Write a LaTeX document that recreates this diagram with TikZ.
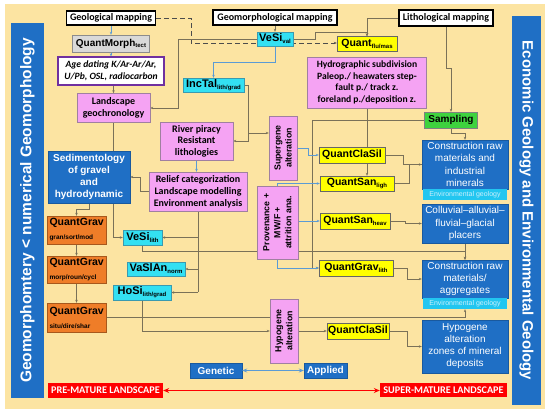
\documentclass[tikz,border=0pt]{standalone}
\usepackage{fontspec}
\setmainfont{Liberation Sans}
\newfontfamily\calfont{Carlito}
\usetikzlibrary{arrows.meta}
\pgfdeclarelayer{back}
\pgfdeclarelayer{bg}
\pgfsetlayers{back,bg,main}
\definecolor{beige}{HTML}{FCE4A2}
\definecolor{bblue}{HTML}{1F6FC5}
\definecolor{cyanf}{HTML}{33E0F2}
\definecolor{cyanb}{HTML}{3A9AB0}
\definecolor{envc}{HTML}{22C6F0}
\definecolor{yelf}{HTML}{FFFF00}
\definecolor{pinkf}{HTML}{F5A3F3}
\definecolor{pinkb}{HTML}{A080A0}
\definecolor{orf}{HTML}{EF7D28}
\definecolor{grnf}{HTML}{3ED23E}
\definecolor{grayf}{HTML}{D9D9D9}
\definecolor{purp}{HTML}{7030A0}
\definecolor{lineC}{HTML}{7A7158}
\definecolor{lineB}{HTML}{5B9BD5}
\definecolor{redf}{HTML}{FF0000}
\newcommand{\sbs}[1]{\raisebox{-0.35ex}{\fontsize{6}{6}\selectfont #1}}
\tikzset{
  base/.style={inner sep=0pt, align=center},
  mapbox/.style={base, draw=black, line width=1.3pt, fill=white, font=\calfont\bfseries\fontsize{10}{11}\selectfont},
  ybox/.style={base, fill=yelf, draw=black!60, line width=0.4pt, font=\bfseries\fontsize{10.5}{12}\selectfont},
  cbox/.style={base, fill=cyanf, draw=cyanb, line width=0.4pt, font=\bfseries\fontsize{11}{12}\selectfont},
  pbox/.style={base, fill=pinkf, draw=pinkb, line width=0.4pt, font=\calfont\bfseries\fontsize{10}{12}\selectfont},
  vtext/.style={base, rotate=90, font=\bfseries\fontsize{8.8}{11}\selectfont},
  obox/.style={base, fill=orf, draw=orf!70!black, line width=0.4pt, text width=54pt, align=left, font=\bfseries\fontsize{10.5}{11}\selectfont},
  bbox/.style={base, fill=bblue, draw=bblue!80!black, line width=0.4pt, text=white, font=\fontsize{10}{12.3}\selectfont},
  envbox/.style={base, fill=envc, text=white!80!cyan, font=\fontsize{7}{8}\selectfont},
  redbox/.style={base, fill=redf, text=white, font=\calfont\bfseries\fontsize{10.2}{11}\selectfont},
  conn/.style={draw=lineC, line width=0.55pt},
  bconn/.style={draw=lineB, line width=0.55pt},
  dashconn/.style={draw=black!70, line width=0.9pt, dash pattern=on 5pt off 3pt},
  arr/.style={-{Stealth[length=3pt,width=2.4pt]}},
}
\begin{document}
\begin{tikzpicture}[x=1pt,y=-1pt]
\useasboundingbox (0,0) rectangle (550,414);
\begin{pgfonlayer}{back}
\fill[white] (0,0) rectangle (550,414);
\fill[beige] (5,4) rectangle (545,409);
\end{pgfonlayer}
% side bars
\node[base, fill=bblue, minimum width=33, minimum height=375] (lbar) at (27.5,210.5) {};
\node[base, rotate=90, text=white, font=\bfseries\fontsize{15.5}{17}\selectfont] at (lbar) {Geomorphomtery < numerical Geomorphology};
\node[base, fill=bblue, minimum width=29, minimum height=389] (rbar) at (526.5,210.5) {};
\node[base, rotate=-90, text=white, font=\bfseries\fontsize{15}{17}\selectfont] at (rbar) {Economic Geology and Environmental Geology};
% top mapping boxes
\node[mapbox, minimum width=89, minimum height=14] (geo) at (111,18) {Geological mapping};
\node[mapbox, minimum width=124, minimum height=15] (geomorph) at (275,17.5) {Geomorphological mapping};
\node[mapbox, minimum width=94, minimum height=16] (litho) at (446,18) {Lithological mapping};
% left column
\node[base, fill=grayf, draw=black!45, line width=0.4pt, minimum width=77, minimum height=17, font=\bfseries\fontsize{10}{11}\selectfont] (qmorph) at (111,43.5) {QuantMorph\sbs{tect}};
\node[base, fill=white, draw=purp, line width=1.2pt, minimum width=106, minimum height=28, font=\calfont\bfseries\itshape\fontsize{9.6}{11.5}\selectfont] (age) at (111,71) {Age dating K/Ar-Ar/Ar,\\U/Pb, OSL, radiocarbon};
\node[pbox, minimum width=73, minimum height=29] (lgeo) at (113.5,108) {Landscape\\geochronology};
\node[cbox, minimum width=36, minimum height=14] (vesival) at (275,39) {VeSi\sbs{val}};
\node[ybox, minimum width=60, minimum height=15] (quantflu) at (367,44) {Quant\sbs{flu/mas}};
\node[pbox, minimum width=119, minimum height=51, font=\calfont\bfseries\fontsize{9.6}{11.5}\selectfont] (hydro) at (367,82.5) {Hydrographic subdivision\\Paleop./ heawaters step-\\fault p./ track z.\\foreland p./deposition z.};
\node[base, fill=grnf, draw=black!50, line width=0.4pt, minimum width=53, minimum height=16, font=\bfseries\fontsize{10}{11}\selectfont] (sampling) at (451,120) {Sampling};
\node[cbox, minimum width=61, minimum height=14] (inctal) at (213.5,85) {IncTal\sbs{lith/grad}};
\node[pbox, minimum width=73, minimum height=38, font=\calfont\bfseries\fontsize{10}{11.5}\selectfont] (river) at (196.5,141) {River piracy\\Resistant\\lithologies};
\node[pbox, minimum width=98, minimum height=39, font=\calfont\bfseries\fontsize{10}{12}\selectfont] (relief) at (198,191.5) {Relief categorization\\Landscape modelling\\Environment analysis};
\node[bbox, minimum width=82, minimum height=52, font=\bfseries\fontsize{10}{11.8}\selectfont] (sed) at (89,177) {Sedimentology\\of gravel\\and\\hydrodynamic};
\node[obox, minimum width=59, minimum height=28] (qg1) at (76.5,230) {QuantGrav\\[3pt]{\fontsize{6.5}{7}\selectfont gran/sort/mod}};
\node[obox, minimum width=59, minimum height=27] (qg2) at (76.5,269.5) {QuantGrav\\[3pt]{\fontsize{6.5}{7}\selectfont morp/roun/cycl}};
\node[obox, minimum width=59, minimum height=29] (qg3) at (76.5,317.5) {QuantGrav\\[3pt]{\fontsize{6.5}{7}\selectfont situ/dire/shar}};
\node[cbox, minimum width=39, minimum height=15] (vesilith) at (142.5,237.5) {VeSi\sbs{lith}};
\node[cbox, minimum width=58, minimum height=14] (vaslan) at (156,269) {VaSlAn\sbs{norm}};
\node[cbox, minimum width=58, minimum height=15] (hosi) at (142,292.5) {HoSi\sbs{lith/grad}};
% pink vertical boxes
\node[pbox, minimum width=28, minimum height=64] (super) at (283,148) {};
\node[vtext] at (super) {Supergene\\alteration};
\node[pbox, minimum width=41, minimum height=73] (prov) at (277.5,222.5) {};
\node[vtext] at (prov) {Provenance +\\MW/F +\\attrition ana.};
\node[pbox, minimum width=28, minimum height=64] (hypo) at (284,331) {};
\node[vtext] at (hypo) {Hypogene\\alteration};
% yellow boxes
\node[ybox, minimum width=66, minimum height=16] (qcs1) at (352,155) {QuantClaSil};
\node[ybox, minimum width=74, minimum height=15] (qsl) at (357,183.5) {QuantSan\sbs{ligh}};
\node[ybox, minimum width=70, minimum height=16] (qsh) at (355,221) {QuantSan\sbs{heav}};
\node[ybox, minimum width=74, minimum height=16] (qgl) at (356,268) {QuantGrav\sbs{lith}};
\node[ybox, minimum width=62, minimum height=16] (qcs2) at (358,331) {QuantClaSil};
% right blue boxes
\node[bbox, minimum width=86, minimum height=49] (crm) at (465,164.5) {Construction raw\\materials and\\industrial\\minerals};
\node[envbox, minimum width=84, minimum height=11] (env1) at (465,194.5) {Environmental geology};
\node[bbox, minimum width=86, minimum height=39] (coll) at (465,223.5) {Colluvial--alluvial--\\fluvial--glacial\\placers};
\node[bbox, minimum width=86, minimum height=38] (agg) at (465,279) {Construction raw\\materials/\\aggregates};
\node[envbox, minimum width=84, minimum height=11] (env2) at (465,303.5) {Environmental geology};
\node[bbox, minimum width=86, minimum height=53, font=\fontsize{10}{12}\selectfont] (hyz) at (465,346.5) {Hypogene\\alteration\\zones of mineral\\deposits};
% bottom
\node[bbox, minimum width=52, minimum height=15, font=\bfseries\fontsize{10}{11}\selectfont] (genetic) at (216,370.5) {Genetic};
\node[bbox, minimum width=43, minimum height=15, font=\bfseries\fontsize{10}{11}\selectfont] (applied) at (325.5,370.5) {Applied};
\node[redbox, minimum width=115, minimum height=15] (pre) at (105.5,390.5) {PRE-MATURE LANDSCAPE};
\node[redbox, minimum width=127, minimum height=14] (sup) at (443.5,390.5) {SUPER-MATURE LANDSCAPE};
% junction coordinates
\coordinate (j1) at (248,133);
\begin{pgfonlayer}{bg}
\draw[bconn,arr] (geo.south) -- (qmorph.north);
\draw[bconn,arr] (qmorph.south) -- (age.north);
\draw[conn,arr] (lgeo.north |- age.south) -- (lgeo.north);
\draw[dashconn,arr] (geo.east) -| (191,43) -- (quantflu.west |- 0,43);
\draw[conn,arr] (geomorph.south) -- (vesival.north);
\draw[bconn,arr] (vesival.south) -- ++(0,16) -| (inctal.north);
\draw[conn,arr] (vesival.west) -| (178,108) -- (lgeo.east);
\draw[conn,arr] (vesival.east) -- (315,39) |- (367,32) -- (quantflu.north);
\draw[conn,arr] (litho.west) -| (quantflu.north);
\draw[conn,arr] (litho.south) -- (446,68) -- (451,68) -- (sampling.north);
\draw[conn,arr] (hydro.south) -- (hydro.south |- qsl.north);
\draw[conn,arr] (sampling.west) -| (312,268) -- (qgl.west);
\draw[conn,arr] (sampling.south) |- (465,133) -- (crm.north);
\draw[conn,arr] (inctal.east) -| (248,141) -- (river.east);
\draw[conn,arr] (j1) -- (super.west |- j1);
\draw[bconn,arr] (river.south) -- (river.south |- relief.north);
\draw[conn,arr] (relief.west) -- ++(-9,0) |- (sed.east);
\draw[conn,arr] (lgeo.south) |- (vesilith.west);
\draw[conn,arr] (sed.south) -- ++(0,6) -| (qg1.north);
\draw[conn,arr] (qg1.south) -- (qg2.north);
\draw[conn,arr] (qg2.south) -- (qg3.north);
\draw[conn] (relief.south) -- (relief.south |- hosi.east);
\draw[conn,arr] (relief.south |- vesilith.east) -- (vesilith.east);
\draw[conn,arr] (relief.south |- vaslan.east) -- (vaslan.east);
\draw[conn,arr] (relief.south |- hosi.east) -- (hosi.east);
\draw[conn,arr] (vesilith.south) -- ++(0,6) -| (agg.north);
\draw[conn,arr] (coll.south) -- (agg.north);
\draw[bconn,arr] (super.east) -- ++(11,0) |- (qcs1.west);
\draw[bconn,arr] (prov.north) |- (qsl.west);
\draw[bconn,arr] (prov.east |- qsh.west) -- (qsh.west);
\draw[bconn,arr] (prov.south) |- (qgl.west);
\draw[conn,arr] (qcs1.east) -- ++(18,0) |- (crm.west);
\draw[conn] (qsl.east) -- ++(15,0) |- (crm.west);
\draw[conn,arr] (qsh.east) -- ++(15,0) |- (coll.west);
\draw[conn,arr] (qgl.east) -- ++(14,0) |- (agg.west);
\draw[conn,arr] (qg3.east) -| (env2.south);
\draw[conn,arr] (hosi.south) |- (hypo.west);
\draw[conn,arr] (hypo.east) -- (qcs2.west);
\draw[conn,arr] (qcs2.east) -- ++(18,0) |- (hyz.west);
\end{pgfonlayer}
\draw[draw=lineB, line width=1pt, {Stealth[length=5pt,width=4pt]}-{Stealth[length=5pt,width=4pt]}] (genetic.east) -- (applied.west);
\draw[draw=redf, line width=1.2pt, {Stealth[length=6pt,width=5pt]}-{Stealth[length=6pt,width=5pt]}] (pre.east) -- (sup.west);
\end{tikzpicture}
\end{document}
